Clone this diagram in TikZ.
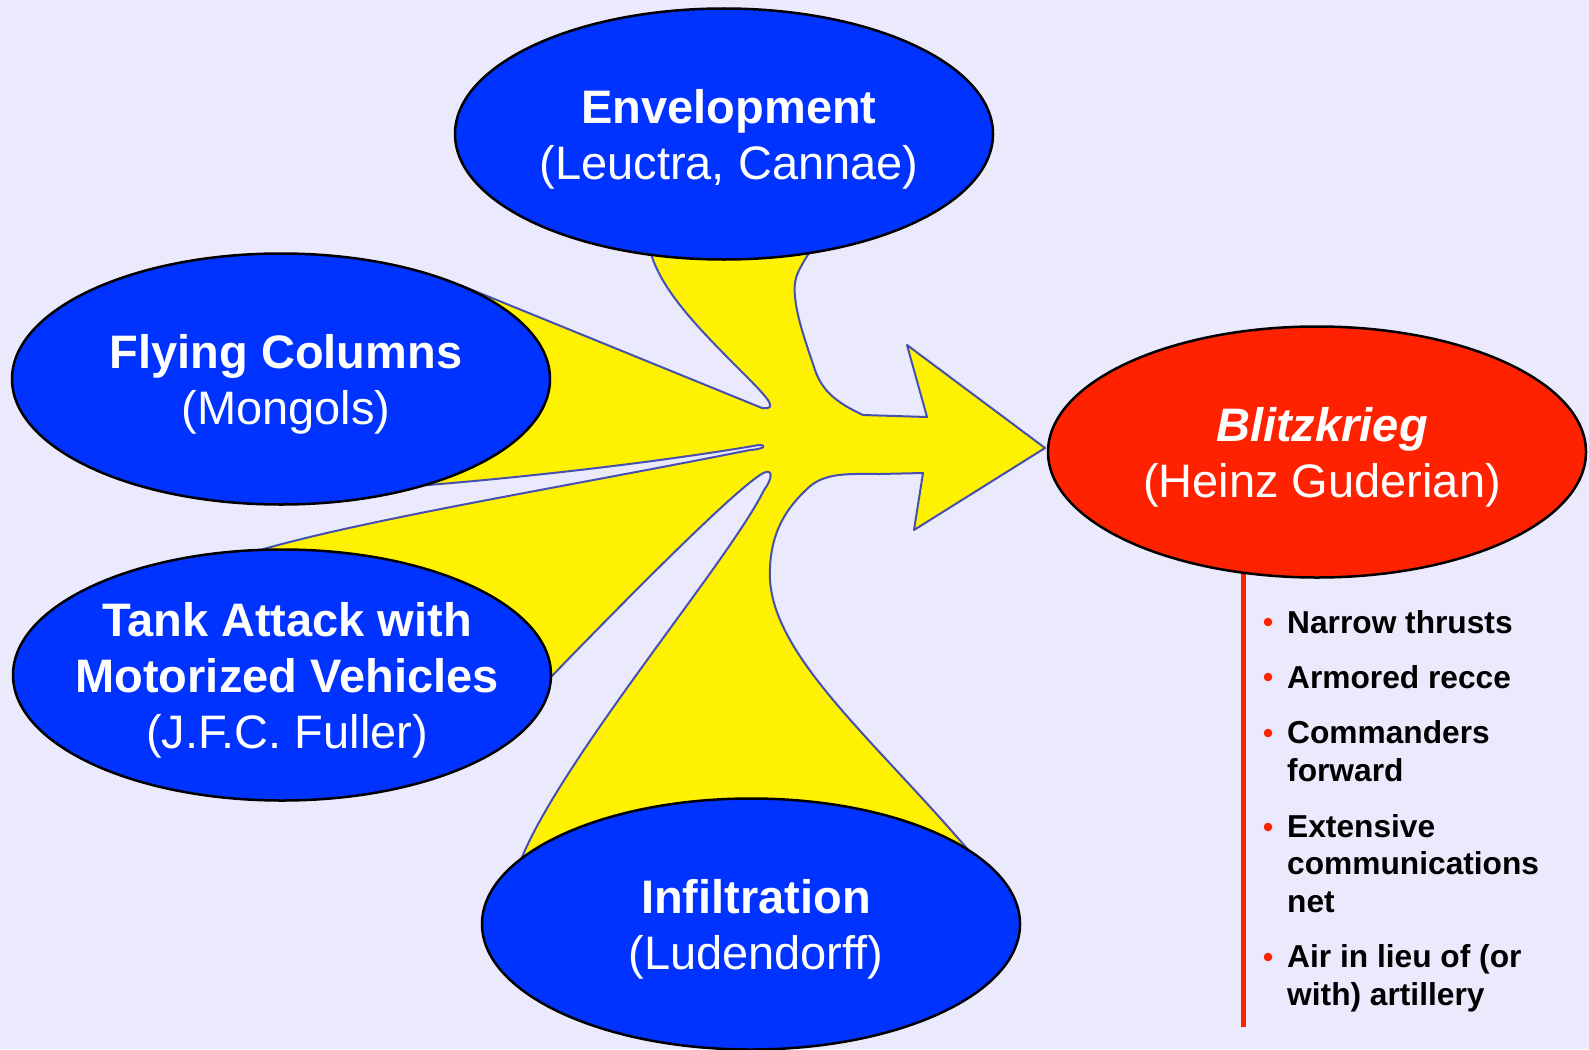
\documentclass[tikz,border=0pt]{standalone}
\usepackage{fontspec}
\setmainfont{Liberation Sans}
\usetikzlibrary{shapes.geometric}
\definecolor{paper}{RGB}{234,234,252}
\definecolor{topicblue}{RGB}{0,51,255}
\definecolor{goalred}{RGB}{255,34,0}
\definecolor{thrustline}{RGB}{70,80,175}
\tikzstyle{topic} = [draw=black, line width=2.5pt, fill=topicblue, ellipse, minimum width=538pt, minimum height=251pt]
\tikzstyle{goal} = [topic, fill=goalred]
\tikzstyle{topictext} = [text=white, align=center, xshift=5pt, yshift=-5pt, font={\fontsize{47}{56}\selectfont}]
\tikzstyle{point} = [anchor=base west, align=left, inner sep=0pt, font={\bfseries\fontsize{31.7}{37.5}\selectfont}]
\tikzstyle{listdot} = [circle, fill=goalred, inner sep=0pt, minimum size=8.6pt]
\tikzstyle{thrust} = [draw=thrustline, line width=2pt, fill=yellow, line join=round]
\tikzstyle{listbar} = [draw=goalred, line width=5pt]

\begin{document}
\begin{tikzpicture}[x=1pt, y=-1pt]
  \useasboundingbox (0,0) rectangle (1589,1049);
  \clip (0,0) rectangle (1589,1049);
  \fill[paper] (0,0) rectangle (1589,1049);
  % yellow thrusts into the arrow
  \draw[thrust] (650,250)
    .. controls (660,290) and (700,330) .. (745,375)
    .. controls (770,400) and (778,410) .. (762,408)
    -- (460,285) -- (400,380) -- (415,486)
    .. controls (520,478) and (660,462) .. (759,445)
    .. controls (767,445) and (765,449) .. (750,450)
    .. controls (560,488) and (330,525) .. (235,558)
    -- (300,640) -- (548,680)
    .. controls (640,585) and (730,495) .. (760,475)
    .. controls (775,465) and (772,480) .. (764,490)
    .. controls (730,560) and (560,760) .. (520,862)
    -- (751,900) -- (975,858)
    .. controls (880,745) and (775,660) .. (770,580)
    .. controls (768,530) and (790,505) .. (808,488)
    .. controls (825,472) and (850,474) .. (880,474)
    -- (923,473) -- (914,530) -- (1045,448) -- (907,345) -- (927,417) -- (863,415)
    .. controls (835,402) and (822,390) .. (815,370)
    .. controls (805,340) and (790,300) .. (796,278)
    .. controls (799,268) and (805,260) .. (812,248)
    -- (724,200) -- cycle;
  % list bar under the goal
  \coordinate (bar top) at (1243.5,520);
  \coordinate (bar end) at (1243.5,1027);
  \draw[listbar] (bar top) -- (bar end);
  % ellipses
  \node[topic] (envelopment) at (724,134) {};
  \node[topic] (columns) at (281,379) {};
  \node[topic] (tanks) at (282,675) {};
  \node[topic] (infiltration) at (751,924) {};
  \node[goal] (blitz) at (1317,452) {};
  \node[topictext] (envelopment text) at (envelopment) {\textbf{Envelopment}\\(Leuctra, Cannae)};
  \node[topictext] (columns text) at (columns) {\textbf{Flying Columns}\\(Mongols)};
  \node[topictext] (tanks text) at (tanks) {\textbf{Tank Attack with}\\\textbf{Motorized Vehicles}\\(J.F.C. Fuller)};
  \node[topictext] (infiltration text) at (infiltration) {\textbf{Infiltration}\\(Ludendorff)};
  \node[topictext] (blitz text) at (blitz) {\textbf{\textit{Blitzkrieg}}\\(Heinz Guderian)};
  % points of the blitzkrieg (base = last line)
  \node[point] (narrow) at (1287,633) {Narrow thrusts};
  \node[point] (recce) at (1287,688) {Armored recce};
  \node[point] (commanders) at (1287,781) {Commanders\\forward};
  \node[point] (extensive) at (1287,912) {Extensive\\communications\\net};
  \node[point] (air) at (1287,1005) {Air in lieu of (or\\with) artillery};
  \node[listdot] (dot1) at (1268,622) {};
  \node[listdot] (dot2) at (1268,677) {};
  \node[listdot] (dot3) at (1268,733) {};
  \node[listdot] (dot4) at (1268,827) {};
  \node[listdot] (dot5) at (1268,957) {};
\end{tikzpicture}
\end{document}
